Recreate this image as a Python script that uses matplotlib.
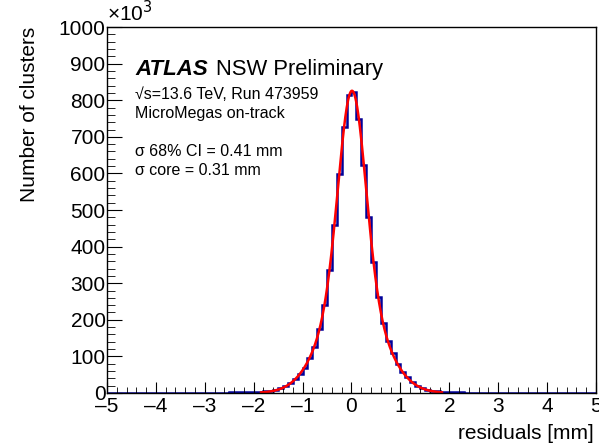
import numpy as np
import matplotlib
matplotlib.use("Agg")
import matplotlib.pyplot as plt
from matplotlib.ticker import MultipleLocator

plt.rcParams['font.family'] = ['Liberation Sans', 'DejaVu Sans']

# histogram of residuals, 100 bins from -5 to 5 mm, counts in thousands
bin_edges = np.linspace(-5, 5, 101)
counts = [
    0.2, 0.2, 0.2, 0.2, 0.2, 0.3, 0.3, 0.3, 0.3, 0.3,
    0.4, 0.4, 0.4, 0.5, 0.5, 0.5, 0.6, 0.6, 0.7, 0.7,
    0.8, 0.9, 1.0, 1.1, 1.2, 1.4, 1.6, 1.8, 2.1, 2.5,
    2.8, 3.5, 4.5, 6.0, 9.0, 13, 20, 28, 39, 53,
    69, 96, 127, 175, 240, 336, 459, 598, 728, 814,
    822, 750, 623, 482, 358, 263, 192, 142, 109, 78,
    58, 44, 30, 20, 14, 9.0, 6.0, 4.5, 3.5, 2.8,
    2.2, 1.8, 1.5, 1.3, 1.1, 1.0, 0.9, 0.8, 0.7, 0.7,
    0.6, 0.6, 0.5, 0.5, 0.5, 0.4, 0.4, 0.4, 0.3, 0.3,
    0.3, 0.3, 0.3, 0.2, 0.2, 0.2, 0.2, 0.2, 0.2, 0.2,
]
fit_range = (-1.85, 1.85)

label_lines = ["√s=13.6 TeV, Run 473959", "MicroMegas on-track"]
sigma_lines = ["σ 68% CI = 0.41 mm", "σ core = 0.31 mm"]

# double gaussian fit (common mean) to the histogram inside the fit range
counts = np.array(counts)
centers = 0.5 * (bin_edges[:-1] + bin_edges[1:])
sel = (centers > fit_range[0]) & (centers < fit_range[1])
xc, yc = centers[sel], counts[sel]
best = None
for m in np.linspace(-0.05, 0.05, 11):
    for s1 in np.linspace(0.2, 0.5, 31):
        for s2 in np.linspace(0.4, 1.5, 45):
            if s2 <= s1:
                continue
            g1 = np.exp(-(xc - m) ** 2 / (2 * s1 ** 2))
            g2 = np.exp(-(xc - m) ** 2 / (2 * s2 ** 2))
            M = np.vstack([g1, g2]).T
            amp, *_ = np.linalg.lstsq(M, yc, rcond=None)
            chi2 = np.sum((M @ amp - yc) ** 2)
            if best is None or chi2 < best[0]:
                best = (chi2, m, s1, s2, amp)
_, m, s1, s2, amp = best
xf = np.linspace(fit_range[0], fit_range[1], 400)
yf = amp[0] * np.exp(-(xf - m) ** 2 / (2 * s1 ** 2)) + amp[1] * np.exp(-(xf - m) ** 2 / (2 * s2 ** 2))

fig = plt.figure(figsize=(5.99, 4.44), dpi=100)
ax = fig.add_axes([0.1786, 0.1149, 0.8164, 0.8241])

ax.stairs(counts, bin_edges, color='#000099', linewidth=1.8)
ax.plot(xf, yf, color='red', linewidth=1.8)

ax.set_xlim(-5, 5)
ax.set_ylim(0, 1000)
ax.xaxis.set_major_locator(MultipleLocator(1))
ax.xaxis.set_minor_locator(MultipleLocator(0.2))
ax.yaxis.set_major_locator(MultipleLocator(100))
ax.yaxis.set_minor_locator(MultipleLocator(20))
ax.tick_params(axis='both', which='both', direction='in', labelsize=15)
ax.tick_params(axis='x', which='major', length=8, pad=3)
ax.tick_params(axis='x', which='minor', length=4.5)
ax.tick_params(axis='y', which='major', length=11, pad=1)
ax.tick_params(axis='y', which='minor', length=5.5)
ax.xaxis.set_major_formatter(matplotlib.ticker.FuncFormatter(lambda v, p: f"{v:.0f}".replace('-', '\u2013')))
for sp in ax.spines.values():
    sp.set_linewidth(1.0)

ax.set_xlabel("residuals [mm]", fontsize=15, ha='right', x=0.995, labelpad=6)
ax.set_ylabel("Number of clusters", fontsize=15, ha='right', y=1.0, labelpad=14)
fig.text(0.178, 0.943, "×10$^3$", fontsize=15, ha='left', va='bottom')

fig.text(135 / 599, 1 - 75 / 444, "ATLAS", fontsize=16, fontweight='bold',
         fontstyle='italic', ha='left', va='baseline')
fig.text(216 / 599, 1 - 75 / 444, "NSW Preliminary", fontsize=15.8, ha='left', va='baseline')
for i, t in enumerate(label_lines):
    fig.text(135 / 599, 1 - (99 + 19 * i) / 444, t, fontsize=11.5, ha='left', va='baseline')
for i, t in enumerate(sigma_lines):
    fig.text(135 / 599, 1 - (156 + 19 * i) / 444, t, fontsize=11.5, ha='left', va='baseline')

fig.savefig("out.png", dpi=100)
